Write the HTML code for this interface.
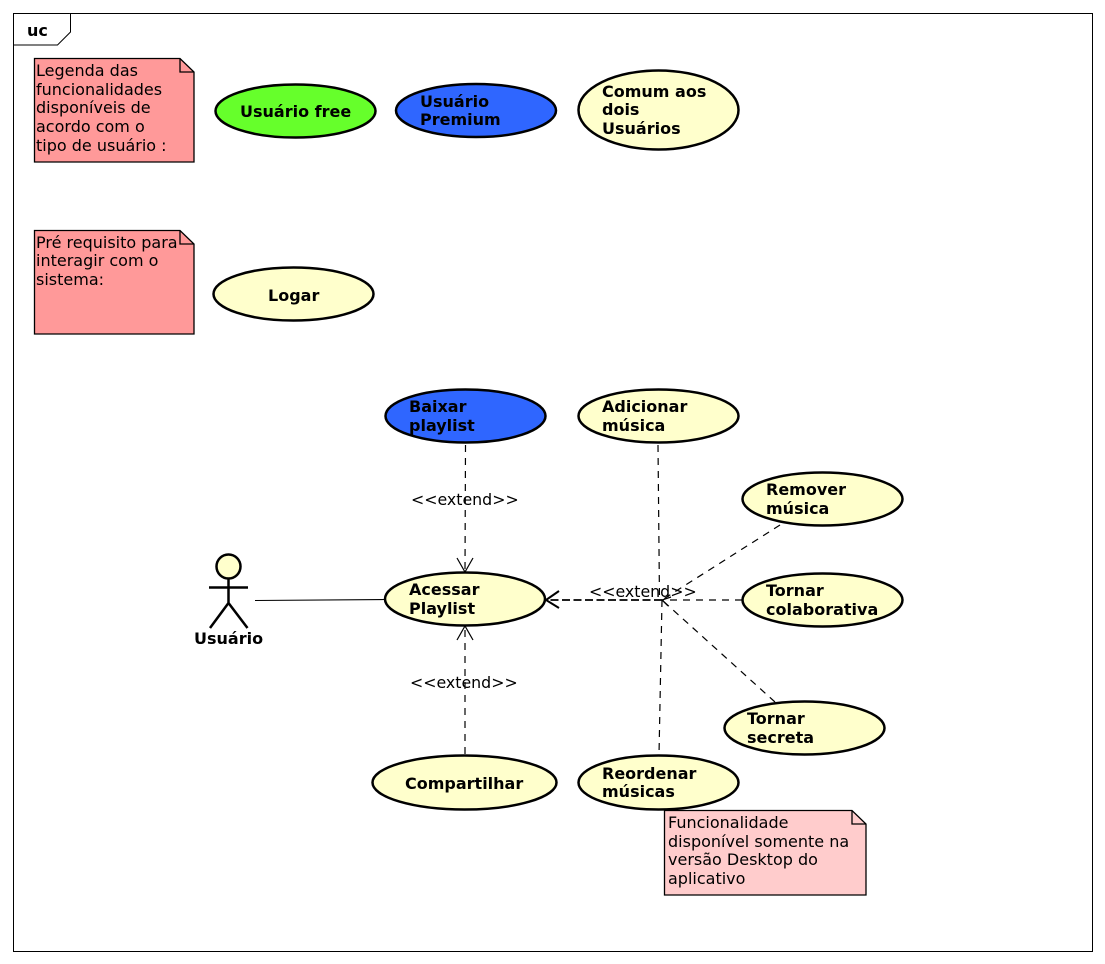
<!DOCTYPE html>
<html><head><meta charset="utf-8"><style>
html,body{margin:0;padding:0;background:#fff}
svg{display:block}
text{font-family:"DejaVu Sans",sans-serif;font-size:16px;fill:#000}
.x{font-size:15.8px}
.b{font-weight:bold}
.e{stroke:#000;stroke-width:2.5}
.n{stroke:#000;stroke-width:1.3}
.d{stroke:#000;stroke-width:1.2;stroke-dasharray:7 6;fill:none}
.a{stroke:#000;stroke-width:1.2;fill:none}
</style></head><body>
<svg width="1105" height="964" viewBox="0 0 1105 964" xmlns="http://www.w3.org/2000/svg">
<rect x="13.5" y="13.5" width="1079" height="938" fill="#fff" stroke="#000" stroke-width="1"/>
<path d="M13.5 45H57.5L70.5 32V13.5" fill="#fff" stroke="#000" stroke-width="1"/>
<text class="b" x="27" y="36">uc</text>

<path d="M34.5 58.5H180L194 72V162H34.5Z" fill="#ff9999" class="n"/>
<path d="M180 58.5V72H194" fill="none" class="n"/>
<text x="36" y="76">Legenda das</text>
<text x="36" y="95">funcionalidades</text>
<text x="36" y="113">disponíveis de</text>
<text x="36" y="132">acordo com o</text>
<text x="36" y="151">tipo de usuário :</text>

<path d="M34.5 230.5H180L194 244V334H34.5Z" fill="#ff9999" class="n"/>
<path d="M180 230.5V244H194" fill="none" class="n"/>
<text x="36" y="248">Pré requisito para</text>
<text x="36" y="266">interagir com o</text>
<text x="36" y="285">sistema:</text>

<path d="M664.5 810.5H852L866 824V895H664.5Z" fill="#ffcccc" class="n"/>
<path d="M852 810.5V824H866" fill="none" class="n"/>
<text x="668" y="828">Funcionalidade</text>
<text x="668" y="847">disponível somente na</text>
<text x="668" y="865">versão Desktop do</text>
<text x="668" y="884">aplicativo</text>

<!-- connectors -->
<line x1="255" y1="600.5" x2="385" y2="599.5" stroke="#000" stroke-width="1.1"/>
<line class="d" x1="465.5" y1="445" x2="465" y2="572"/>
<path class="a" d="M457 558L465 572L473 558"/>
<line class="d" x1="465" y1="754" x2="465" y2="626"/>
<path class="a" d="M457 640L465 626L473 640"/>
<line class="d" x1="658" y1="445" x2="659.5" y2="600"/>
<line class="d" x1="662" y1="600" x2="659" y2="755"/>
<line class="d" x1="780" y1="525" x2="662" y2="600"/>
<line class="d" x1="742" y1="600" x2="662" y2="600"/>
<line class="d" x1="775" y1="702" x2="662" y2="600"/>
<line x1="662" y1="600" x2="546" y2="600" stroke="#000" stroke-width="1.8" stroke-dasharray="8 3.5"/>
<path d="M559 591L546 600L559 608" fill="none" stroke="#000" stroke-width="2"/>
<path class="a" d="M671 597L662 600L668 606"/>
<text class="x" x="411" y="505">&lt;&lt;extend&gt;&gt;</text>
<text class="x" x="589" y="597">&lt;&lt;extend&gt;&gt;</text>
<text class="x" x="410" y="688">&lt;&lt;extend&gt;&gt;</text>

<!-- ellipses -->
<ellipse class="e" cx="295.5" cy="111" rx="80" ry="26.5" fill="#66ff2b"/>
<text class="b" x="240" y="117">Usuário free</text>
<ellipse class="e" cx="476" cy="110.5" rx="80" ry="26.5" fill="#2f66ff"/>
<text class="b" x="420" y="107">Usuário</text>
<text class="b" x="420" y="125">Premium</text>
<ellipse class="e" cx="658.5" cy="110" rx="80" ry="39.5" fill="#ffffcc"/>
<text class="b" x="602" y="97">Comum aos</text>
<text class="b" x="602" y="115">dois</text>
<text class="b" x="602" y="134">Usuários</text>
<ellipse class="e" cx="293.5" cy="294" rx="80" ry="26.5" fill="#ffffcc"/>
<text class="b" x="268" y="301">Logar</text>

<ellipse class="e" cx="465.5" cy="416" rx="80" ry="26.5" fill="#2f66ff"/>
<text class="b" x="409" y="412">Baixar</text>
<text class="b" x="409" y="431">playlist</text>
<ellipse class="e" cx="658.5" cy="416" rx="80" ry="26.5" fill="#ffffcc"/>
<text class="b" x="602" y="412">Adicionar</text>
<text class="b" x="602" y="431">música</text>
<ellipse class="e" cx="822.5" cy="499" rx="80" ry="26.5" fill="#ffffcc"/>
<text class="b" x="766" y="495">Remover</text>
<text class="b" x="766" y="514">música</text>
<ellipse class="e" cx="465" cy="599" rx="80" ry="26.5" fill="#ffffcc"/>
<text class="b" x="409" y="595">Acessar</text>
<text class="b" x="409" y="614">Playlist</text>
<ellipse class="e" cx="822.5" cy="600" rx="80" ry="26.5" fill="#ffffcc"/>
<text class="b" x="766" y="596">Tornar</text>
<text class="b" x="766" y="615">colaborativa</text>
<ellipse class="e" cx="804.5" cy="728" rx="80" ry="26.5" fill="#ffffcc"/>
<text class="b" x="747" y="724">Tornar</text>
<text class="b" x="747" y="743">secreta</text>
<ellipse class="e" cx="464.5" cy="782.5" rx="92" ry="27" fill="#ffffcc"/>
<text class="b" x="405" y="789">Compartilhar</text>
<ellipse class="e" cx="658.5" cy="782.5" rx="80" ry="27" fill="#ffffcc"/>
<text class="b" x="602" y="779">Reordenar</text>
<text class="b" x="602" y="797">músicas</text>

<!-- actor -->
<circle cx="228.5" cy="566.5" r="12" fill="#ffffcc" stroke="#000" stroke-width="2.5"/>
<path d="M228.5 578.5V603M209 587.5H248M210 628L228.5 603L247.5 628" fill="none" stroke="#000" stroke-width="2.5"/>
<text class="b" x="194" y="644">Usuário</text>
</svg>
</body></html>
